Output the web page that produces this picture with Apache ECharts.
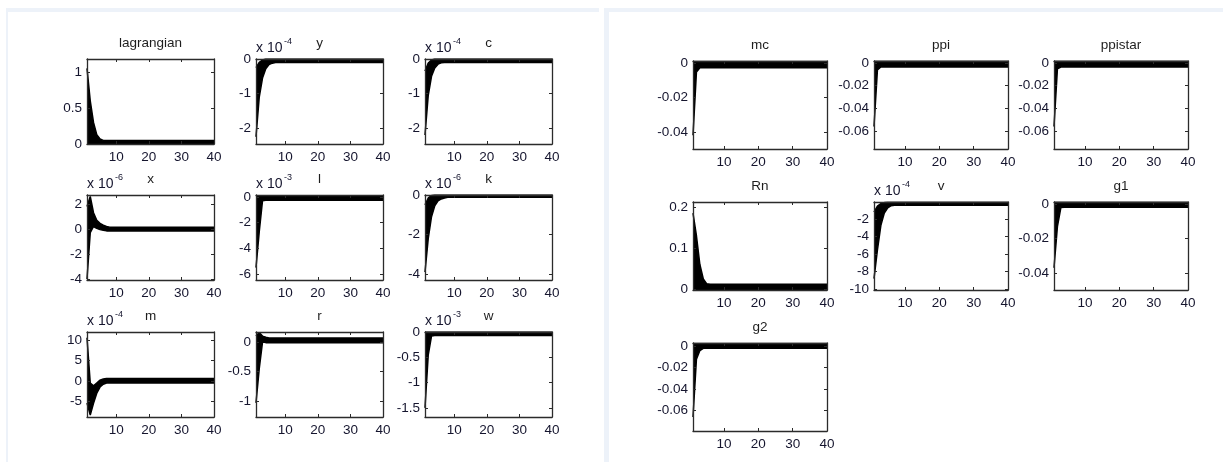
<!DOCTYPE html>
<html lang="en">
  <head>
    <meta charset="UTF-8" />
    <title>IRF</title>
    <script src="https://cdn.jsdelivr.net/npm/echarts@6/dist/echarts.min.js"></script>
    <style>
      html, body { margin: 0; padding: 0; background: #fff; }
      #main { width: 1223px; height: 462px; }
    </style>
  </head>
  <body>
    <div id="main"></div>
  </body>
  <script>
    // periods 1..40
    const periods = [
      1, 2, 3, 4, 5, 6, 7, 8, 9, 10,
      11, 12, 13, 14, 15, 16, 17, 18, 19, 20,
      21, 22, 23, 24, 25, 26, 27, 28, 29, 30,
      31, 32, 33, 34, 35, 36, 37, 38, 39, 40,
    ];
    const xTicks = [10, 20, 30, 40];

    const names = ["lagrangian", "y", "c", "x", "l", "k", "m", "r", "w",
      "mc", "ppi", "ppistar", "Rn", "v", "g1", "g2"];
    // "x 10^n" shown above the axis (null = none)
    const exponents = [null, -4, -4, -6, -3, -6, -4, null, -3,
      null, null, null, null, -4, null, null];
    const yTicks = [
      [0, 0.5, 1], [-2, -1, 0], [-2, -1, 0],
      [-4, -2, 0, 2], [-6, -4, -2, 0], [-4, -2, 0],
      [-5, 0, 5, 10], [-1, -0.5, 0], [-1.5, -1, -0.5, 0],
      [-0.04, -0.02, 0], [-0.06, -0.04, -0.02, 0], [-0.06, -0.04, -0.02, 0],
      [0, 0.1, 0.2], [-10, -8, -6, -4, -2], [-0.04, -0.02, 0],
      [-0.06, -0.04, -0.02, 0],
    ];
    const yMin = [0, -2.46, -2.46, -4.08, -6.46, -4.3, -8.85, -1.27, -1.68,
      -0.05, -0.0758, -0.0758, -0.002, -10.1, -0.0499, -0.079];
    const yMax = [1.18, 0, 0, 2.72, 0.15, 0, 12, 0.17, 0,
      0.0015, 0.0018, 0.0018, 0.212, -0.03, 0.0012, 0.003];

    // upper / lower edge of the bundle of responses (axis units)
    const lagrangianHi = [
      1.05, 0.6, 0.3, 0.13, 0.07, 0.05, 0.05, 0.05, 0.05, 0.05,
      0.05, 0.05, 0.05, 0.05, 0.05, 0.05, 0.05, 0.05, 0.05, 0.05,
      0.05, 0.05, 0.05, 0.05, 0.05, 0.05, 0.05, 0.05, 0.05, 0.05,
      0.05, 0.05, 0.05, 0.05, 0.05, 0.05, 0.05, 0.05, 0.05, 0.05,
    ];
    const lagrangianLo = [
      0, 0, 0, 0, 0, 0, 0, 0, 0, 0,
      0, 0, 0, 0, 0, 0, 0, 0, 0, 0,
      0, 0, 0, 0, 0, 0, 0, 0, 0, 0,
      0, 0, 0, 0, 0, 0, 0, 0, 0, 0,
    ];
    const yHi = [
      -0.25, -0.1, -0.03, 0, 0, 0, 0, 0, 0, 0,
      0, 0, 0, 0, 0, 0, 0, 0, 0, 0,
      0, 0, 0, 0, 0, 0, 0, 0, 0, 0,
      0, 0, 0, 0, 0, 0, 0, 0, 0, 0,
    ];
    const yLo = [
      -2.25, -1.1, -0.55, -0.28, -0.16, -0.12, -0.1, -0.1, -0.1, -0.1,
      -0.1, -0.1, -0.1, -0.1, -0.1, -0.1, -0.1, -0.1, -0.1, -0.1,
      -0.1, -0.1, -0.1, -0.1, -0.1, -0.1, -0.1, -0.1, -0.1, -0.1,
      -0.1, -0.1, -0.1, -0.1, -0.1, -0.1, -0.1, -0.1, -0.1, -0.1,
    ];
    const cHi = [
      -0.35, -0.12, -0.03, 0, 0, 0, 0, 0, 0, 0,
      0, 0, 0, 0, 0, 0, 0, 0, 0, 0,
      0, 0, 0, 0, 0, 0, 0, 0, 0, 0,
      0, 0, 0, 0, 0, 0, 0, 0, 0, 0,
    ];
    const cLo = [
      -2.2, -1.05, -0.5, -0.26, -0.15, -0.11, -0.1, -0.1, -0.1, -0.1,
      -0.1, -0.1, -0.1, -0.1, -0.1, -0.1, -0.1, -0.1, -0.1, -0.1,
      -0.1, -0.1, -0.1, -0.1, -0.1, -0.1, -0.1, -0.1, -0.1, -0.1,
      -0.1, -0.1, -0.1, -0.1, -0.1, -0.1, -0.1, -0.1, -0.1, -0.1,
    ];
    const xHi = [
      1.8, 2.6, 1.3, 0.7, 0.45, 0.3, 0.2, 0.15, 0.15, 0.15,
      0.15, 0.15, 0.15, 0.15, 0.15, 0.15, 0.15, 0.15, 0.15, 0.15,
      0.15, 0.15, 0.15, 0.15, 0.15, 0.15, 0.15, 0.15, 0.15, 0.15,
      0.15, 0.15, 0.15, 0.15, 0.15, 0.15, 0.15, 0.15, 0.15, 0.15,
    ];
    const xLo = [
      -4.0, -0.3, 0.2, 0.05, -0.05, -0.1, -0.15, -0.15, -0.15, -0.15,
      -0.15, -0.15, -0.15, -0.15, -0.15, -0.15, -0.15, -0.15, -0.15, -0.15,
      -0.15, -0.15, -0.15, -0.15, -0.15, -0.15, -0.15, -0.15, -0.15, -0.15,
      -0.15, -0.15, -0.15, -0.15, -0.15, -0.15, -0.15, -0.15, -0.15, -0.15,
    ];
    const lHi = [
      0.1, 0.1, 0.1, 0.1, 0.1, 0.1, 0.1, 0.1, 0.1, 0.1,
      0.1, 0.1, 0.1, 0.1, 0.1, 0.1, 0.1, 0.1, 0.1, 0.1,
      0.1, 0.1, 0.1, 0.1, 0.1, 0.1, 0.1, 0.1, 0.1, 0.1,
      0.1, 0.1, 0.1, 0.1, 0.1, 0.1, 0.1, 0.1, 0.1, 0.1,
    ];
    const lLo = [
      -5.5, -2.7, -0.3, -0.25, -0.25, -0.25, -0.25, -0.25, -0.25, -0.25,
      -0.25, -0.25, -0.25, -0.25, -0.25, -0.25, -0.25, -0.25, -0.25, -0.25,
      -0.25, -0.25, -0.25, -0.25, -0.25, -0.25, -0.25, -0.25, -0.25, -0.25,
      -0.25, -0.25, -0.25, -0.25, -0.25, -0.25, -0.25, -0.25, -0.25, -0.25,
    ];
    const kHi = [
      -0.5, -0.15, -0.03, 0, 0, 0, 0, 0, 0, 0,
      0, 0, 0, 0, 0, 0, 0, 0, 0, 0,
      0, 0, 0, 0, 0, 0, 0, 0, 0, 0,
      0, 0, 0, 0, 0, 0, 0, 0, 0, 0,
    ];
    const kLo = [
      -3.9, -2.2, -1.1, -0.55, -0.3, -0.2, -0.15, -0.12, -0.12, -0.12,
      -0.12, -0.12, -0.12, -0.12, -0.12, -0.12, -0.12, -0.12, -0.12, -0.12,
      -0.12, -0.12, -0.12, -0.12, -0.12, -0.12, -0.12, -0.12, -0.12, -0.12,
      -0.12, -0.12, -0.12, -0.12, -0.12, -0.12, -0.12, -0.12, -0.12, -0.12,
    ];
    const mHi = [
      10.6, -0.5, -1.2, -0.5, 0.2, 0.5, 0.6, 0.6, 0.6, 0.6,
      0.6, 0.6, 0.6, 0.6, 0.6, 0.6, 0.6, 0.6, 0.6, 0.6,
      0.6, 0.6, 0.6, 0.6, 0.6, 0.6, 0.6, 0.6, 0.6, 0.6,
      0.6, 0.6, 0.6, 0.6, 0.6, 0.6, 0.6, 0.6, 0.6, 0.6,
    ];
    const mLo = [
      -5.4, -8.4, -5.5, -3.0, -1.5, -0.8, -0.5, -0.5, -0.5, -0.5,
      -0.5, -0.5, -0.5, -0.5, -0.5, -0.5, -0.5, -0.5, -0.5, -0.5,
      -0.5, -0.5, -0.5, -0.5, -0.5, -0.5, -0.5, -0.5, -0.5, -0.5,
      -0.5, -0.5, -0.5, -0.5, -0.5, -0.5, -0.5, -0.5, -0.5, -0.5,
    ];
    const rHi = [
      0.1, 0.16, 0.1, 0.08, 0.07, 0.07, 0.07, 0.07, 0.07, 0.07,
      0.07, 0.07, 0.07, 0.07, 0.07, 0.07, 0.07, 0.07, 0.07, 0.07,
      0.07, 0.07, 0.07, 0.07, 0.07, 0.07, 0.07, 0.07, 0.07, 0.07,
      0.07, 0.07, 0.07, 0.07, 0.07, 0.07, 0.07, 0.07, 0.07, 0.07,
    ];
    const rLo = [
      -1.03, -0.45, 0, -0.01, -0.01, -0.01, -0.01, -0.01, -0.01, -0.01,
      -0.01, -0.01, -0.01, -0.01, -0.01, -0.01, -0.01, -0.01, -0.01, -0.01,
      -0.01, -0.01, -0.01, -0.01, -0.01, -0.01, -0.01, -0.01, -0.01, -0.01,
      -0.01, -0.01, -0.01, -0.01, -0.01, -0.01, -0.01, -0.01, -0.01, -0.01,
    ];
    const wHi = [
      0, 0, 0, 0, 0, 0, 0, 0, 0, 0,
      0, 0, 0, 0, 0, 0, 0, 0, 0, 0,
      0, 0, 0, 0, 0, 0, 0, 0, 0, 0,
      0, 0, 0, 0, 0, 0, 0, 0, 0, 0,
    ];
    const wLo = [
      -1.5, -0.45, -0.08, -0.07, -0.07, -0.07, -0.07, -0.07, -0.07, -0.07,
      -0.07, -0.07, -0.07, -0.07, -0.07, -0.07, -0.07, -0.07, -0.07, -0.07,
      -0.07, -0.07, -0.07, -0.07, -0.07, -0.07, -0.07, -0.07, -0.07, -0.07,
      -0.07, -0.07, -0.07, -0.07, -0.07, -0.07, -0.07, -0.07, -0.07, -0.07,
    ];
    const mcHi = [
      0.0012, 0.0012, 0.0012, 0.0012, 0.0012, 0.0012, 0.0012, 0.0012, 0.0012, 0.0012,
      0.0012, 0.0012, 0.0012, 0.0012, 0.0012, 0.0012, 0.0012, 0.0012, 0.0012, 0.0012,
      0.0012, 0.0012, 0.0012, 0.0012, 0.0012, 0.0012, 0.0012, 0.0012, 0.0012, 0.0012,
      0.0012, 0.0012, 0.0012, 0.0012, 0.0012, 0.0012, 0.0012, 0.0012, 0.0012, 0.0012,
    ];
    const mcLo = [
      -0.042, -0.005, -0.0025, -0.0025, -0.0025, -0.0025, -0.0025, -0.0025, -0.0025, -0.0025,
      -0.0025, -0.0025, -0.0025, -0.0025, -0.0025, -0.0025, -0.0025, -0.0025, -0.0025, -0.0025,
      -0.0025, -0.0025, -0.0025, -0.0025, -0.0025, -0.0025, -0.0025, -0.0025, -0.0025, -0.0025,
      -0.0025, -0.0025, -0.0025, -0.0025, -0.0025, -0.0025, -0.0025, -0.0025, -0.0025, -0.0025,
    ];
    const ppiHi = [
      0.0015, 0.0015, 0.0015, 0.0015, 0.0015, 0.0015, 0.0015, 0.0015, 0.0015, 0.0015,
      0.0015, 0.0015, 0.0015, 0.0015, 0.0015, 0.0015, 0.0015, 0.0015, 0.0015, 0.0015,
      0.0015, 0.0015, 0.0015, 0.0015, 0.0015, 0.0015, 0.0015, 0.0015, 0.0015, 0.0015,
      0.0015, 0.0015, 0.0015, 0.0015, 0.0015, 0.0015, 0.0015, 0.0015, 0.0015, 0.0015,
    ];
    const ppiLo = [
      -0.056, -0.006, -0.0035, -0.0035, -0.0035, -0.0035, -0.0035, -0.0035, -0.0035, -0.0035,
      -0.0035, -0.0035, -0.0035, -0.0035, -0.0035, -0.0035, -0.0035, -0.0035, -0.0035, -0.0035,
      -0.0035, -0.0035, -0.0035, -0.0035, -0.0035, -0.0035, -0.0035, -0.0035, -0.0035, -0.0035,
      -0.0035, -0.0035, -0.0035, -0.0035, -0.0035, -0.0035, -0.0035, -0.0035, -0.0035, -0.0035,
    ];
    const ppistarHi = [
      0.0015, 0.0015, 0.0015, 0.0015, 0.0015, 0.0015, 0.0015, 0.0015, 0.0015, 0.0015,
      0.0015, 0.0015, 0.0015, 0.0015, 0.0015, 0.0015, 0.0015, 0.0015, 0.0015, 0.0015,
      0.0015, 0.0015, 0.0015, 0.0015, 0.0015, 0.0015, 0.0015, 0.0015, 0.0015, 0.0015,
      0.0015, 0.0015, 0.0015, 0.0015, 0.0015, 0.0015, 0.0015, 0.0015, 0.0015, 0.0015,
    ];
    const ppistarLo = [
      -0.056, -0.005, -0.0035, -0.0035, -0.0035, -0.0035, -0.0035, -0.0035, -0.0035, -0.0035,
      -0.0035, -0.0035, -0.0035, -0.0035, -0.0035, -0.0035, -0.0035, -0.0035, -0.0035, -0.0035,
      -0.0035, -0.0035, -0.0035, -0.0035, -0.0035, -0.0035, -0.0035, -0.0035, -0.0035, -0.0035,
      -0.0035, -0.0035, -0.0035, -0.0035, -0.0035, -0.0035, -0.0035, -0.0035, -0.0035, -0.0035,
    ];
    const RnHi = [
      0.185, 0.13, 0.06, 0.025, 0.013, 0.012, 0.012, 0.012, 0.012, 0.012,
      0.012, 0.012, 0.012, 0.012, 0.012, 0.012, 0.012, 0.012, 0.012, 0.012,
      0.012, 0.012, 0.012, 0.012, 0.012, 0.012, 0.012, 0.012, 0.012, 0.012,
      0.012, 0.012, 0.012, 0.012, 0.012, 0.012, 0.012, 0.012, 0.012, 0.012,
    ];
    const RnLo = [
      -0.001, -0.001, -0.001, -0.001, -0.001, -0.001, -0.001, -0.001, -0.001, -0.001,
      -0.001, -0.001, -0.001, -0.001, -0.001, -0.001, -0.001, -0.001, -0.001, -0.001,
      -0.001, -0.001, -0.001, -0.001, -0.001, -0.001, -0.001, -0.001, -0.001, -0.001,
      -0.001, -0.001, -0.001, -0.001, -0.001, -0.001, -0.001, -0.001, -0.001, -0.001,
    ];
    const vHi = [
      -1.2, -0.5, -0.2, -0.1, -0.05, -0.05, -0.05, -0.05, -0.05, -0.05,
      -0.05, -0.05, -0.05, -0.05, -0.05, -0.05, -0.05, -0.05, -0.05, -0.05,
      -0.05, -0.05, -0.05, -0.05, -0.05, -0.05, -0.05, -0.05, -0.05, -0.05,
      -0.05, -0.05, -0.05, -0.05, -0.05, -0.05, -0.05, -0.05, -0.05, -0.05,
    ];
    const vLo = [
      -8.8, -5.5, -2.7, -1.3, -0.7, -0.45, -0.4, -0.4, -0.4, -0.4,
      -0.4, -0.4, -0.4, -0.4, -0.4, -0.4, -0.4, -0.4, -0.4, -0.4,
      -0.4, -0.4, -0.4, -0.4, -0.4, -0.4, -0.4, -0.4, -0.4, -0.4,
      -0.4, -0.4, -0.4, -0.4, -0.4, -0.4, -0.4, -0.4, -0.4, -0.4,
    ];
    const g1Hi = [
      0.001, 0.001, 0.001, 0.001, 0.001, 0.001, 0.001, 0.001, 0.001, 0.001,
      0.001, 0.001, 0.001, 0.001, 0.001, 0.001, 0.001, 0.001, 0.001, 0.001,
      0.001, 0.001, 0.001, 0.001, 0.001, 0.001, 0.001, 0.001, 0.001, 0.001,
      0.001, 0.001, 0.001, 0.001, 0.001, 0.001, 0.001, 0.001, 0.001, 0.001,
    ];
    const g1Lo = [
      -0.037, -0.013, -0.002, -0.0018, -0.0018, -0.0018, -0.0018, -0.0018, -0.0018, -0.0018,
      -0.0018, -0.0018, -0.0018, -0.0018, -0.0018, -0.0018, -0.0018, -0.0018, -0.0018, -0.0018,
      -0.0018, -0.0018, -0.0018, -0.0018, -0.0018, -0.0018, -0.0018, -0.0018, -0.0018, -0.0018,
      -0.0018, -0.0018, -0.0018, -0.0018, -0.0018, -0.0018, -0.0018, -0.0018, -0.0018, -0.0018,
    ];
    const g2Hi = [
      0.0025, 0.0025, 0.0025, 0.0025, 0.0025, 0.0025, 0.0025, 0.0025, 0.0025, 0.0025,
      0.0025, 0.0025, 0.0025, 0.0025, 0.0025, 0.0025, 0.0025, 0.0025, 0.0025, 0.0025,
      0.0025, 0.0025, 0.0025, 0.0025, 0.0025, 0.0025, 0.0025, 0.0025, 0.0025, 0.0025,
      0.0025, 0.0025, 0.0025, 0.0025, 0.0025, 0.0025, 0.0025, 0.0025, 0.0025, 0.0025,
    ];
    const g2Lo = [
      -0.066, -0.012, -0.004, -0.002, -0.002, -0.002, -0.002, -0.002, -0.002, -0.002,
      -0.002, -0.002, -0.002, -0.002, -0.002, -0.002, -0.002, -0.002, -0.002, -0.002,
      -0.002, -0.002, -0.002, -0.002, -0.002, -0.002, -0.002, -0.002, -0.002, -0.002,
      -0.002, -0.002, -0.002, -0.002, -0.002, -0.002, -0.002, -0.002, -0.002, -0.002,
    ];

    const hiList = [lagrangianHi, yHi, cHi, xHi, lHi, kHi, mHi, rHi, wHi,
      mcHi, ppiHi, ppistarHi, RnHi, vHi, g1Hi, g2Hi];
    const loList = [lagrangianLo, yLo, cLo, xLo, lLo, kLo, mLo, rLo, wLo,
      mcLo, ppiLo, ppistarLo, RnLo, vLo, g1Lo, g2Lo];

    //布局: 两个 MATLAB 窗口
    const leftCols = [87, 256, 425];
    const leftRows = [59, 195, 332];
    const rightCols = [693, 874, 1054];
    const rightRows = [61, 202, 343];
    const boxes = [];
    for (let r = 0; r < 3; r++)
      for (let c = 0; c < 3; c++)
        boxes.push({ left: leftCols[c], top: leftRows[r], width: 127, height: 85 });
    for (let r = 0; r < 3; r++)
      for (let c = 0; c < 3; c++)
        if (boxes.length < names.length)
          boxes.push({ left: rightCols[c], top: rightRows[r], width: 134, height: 88 });

    const font = '"Liberation Sans", Arial, sans-serif';
    const boxColor = "#2b2b2b";
    const textColor = "#15152e";

    const grid = [], xAxis = [], yAxis = [], series = [], graphic = [];

    // window frames
    const frame = "#edf2f9";
    graphic.push(
      { type: "rect", shape: { x: 6, y: 8, width: 593, height: 4 }, style: { fill: frame }, silent: true },
      { type: "rect", shape: { x: 6, y: 8, width: 2, height: 454 }, style: { fill: frame }, silent: true },
      { type: "rect", shape: { x: 604, y: 8, width: 619, height: 4 }, style: { fill: frame }, silent: true },
      { type: "rect", shape: { x: 604, y: 8, width: 5, height: 454 }, style: { fill: frame }, silent: true }
    );

    names.forEach((name, i) => {
      const b = boxes[i];
      grid.push({ left: b.left, top: b.top, width: b.width, height: b.height });
      const line = { show: true, onZero: false, lineStyle: { color: boxColor, width: 1.3 } };
      const tickStyle = { color: boxColor, width: 1 };
      xAxis.push(
        {
          gridIndex: i, type: "value", min: 1, max: 40, position: "bottom", z: 10,
          axisLine: line,
          axisTick: { show: true, inside: true, length: 3, customValues: xTicks, lineStyle: tickStyle },
          axisLabel: { customValues: xTicks, margin: 6, color: textColor, fontSize: 13.5, fontFamily: font },
          splitLine: { show: false },
        },
        {
          gridIndex: i, type: "value", min: 1, max: 40, position: "top", z: 10,
          axisLine: line,
          axisTick: { show: true, inside: true, length: 3, customValues: xTicks, lineStyle: tickStyle },
          axisLabel: { show: false },
          splitLine: { show: false },
        }
      );
      yAxis.push(
        {
          gridIndex: i, type: "value", min: yMin[i], max: yMax[i], position: "left", z: 10,
          axisLine: line,
          axisTick: { show: true, inside: true, length: 3, customValues: yTicks[i], lineStyle: tickStyle },
          axisLabel: {
            customValues: yTicks[i], margin: 5, color: textColor, fontSize: 13.5, fontFamily: font,
            formatter: (v) => String(v),
          },
          splitLine: { show: false },
        },
        {
          gridIndex: i, type: "value", min: yMin[i], max: yMax[i], position: "right", z: 10,
          axisLine: line,
          axisTick: { show: true, inside: true, length: 3, customValues: yTicks[i], lineStyle: tickStyle },
          axisLabel: { show: false },
          splitLine: { show: false },
        }
      );
      const hi = periods.map((p, j) => [p, hiList[i][j]]);
      const lo = periods.map((p, j) => [p, loList[i][j]]);
      const base = { type: "line", xAxisIndex: 2 * i, yAxisIndex: 2 * i, symbol: "none", silent: true, z: 2 };
      series.push(
        // black down from the upper edge, then white below the lower edge: leaves the bundle
        Object.assign({}, base, {
          data: hi, lineStyle: { width: 0 },
          areaStyle: { color: "#000", opacity: 1, origin: "start" },
        }),
        Object.assign({}, base, {
          data: lo, lineStyle: { width: 0 },
          areaStyle: { color: "#fff", opacity: 1, origin: "start" },
        }),
        Object.assign({}, base, { data: hi, lineStyle: { color: "#000", width: 1.5 } }),
        Object.assign({}, base, { data: lo, lineStyle: { color: "#000", width: 1.5 } })
      );
      // title
      graphic.push({
        type: "text", x: b.left + b.width / 2, y: b.top - 16, silent: true,
        style: { text: name, fill: "#1e1e1e", font: "13.5px " + font, align: "center", verticalAlign: "middle" },
      });
      // x 10^n
      if (exponents[i] !== null) {
        graphic.push(
          {
            type: "text", x: b.left, y: b.top - 11, silent: true,
            style: { text: "x 10", fill: textColor, font: "14px " + font, align: "left", verticalAlign: "middle" },
          },
          {
            type: "text", x: b.left + 28, y: b.top - 17, silent: true,
            style: { text: String(exponents[i]), fill: textColor, font: "9px " + font, align: "left", verticalAlign: "middle" },
          }
        );
      }
    });

    const myChart = echarts.init(document.getElementById("main"));
    myChart.setOption({
      animation: false,
      backgroundColor: "#fff",
      grid: grid,
      xAxis: xAxis,
      yAxis: yAxis,
      series: series,
      graphic: graphic,
    });
  </script>
</html>
